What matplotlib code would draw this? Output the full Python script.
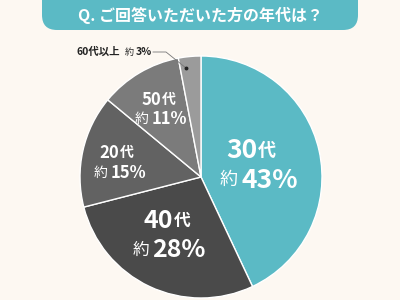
import matplotlib.pyplot as plt
from matplotlib.patches import FancyBboxPatch

plt.rcParams['font.family'] = ['Noto Sans CJK JP', 'DejaVu Sans']

# data
ages = ['30代', '40代', '20代', '50代', '60代以上']
shares = [43, 28, 15, 11, 3]
colors = ['#5bbac5', '#4a4a4a', '#626262', '#7b7b7b', '#9b9b9b']
title = 'Q. ご回答いただいた方の年代は？'

bg = '#fdf8f2'
W, H = 400, 300

fig = plt.figure(figsize=(4, 3), dpi=100, facecolor=bg)
ax = fig.add_axes([0, 0, 1, 1])

# pie (y measured from bottom)
cx, cy, r = 201, H - 177, 121
ax.pie(shares, colors=colors, startangle=90, counterclock=False,
       center=(cx, cy), radius=r, frame=True,
       wedgeprops=dict(edgecolor='white', linewidth=1.0))
ax.set_xlim(0, W)
ax.set_ylim(0, H)
ax.set_aspect('equal')
ax.axis('off')

# title banner
banner = FancyBboxPatch((42, H - 30), 316, 60,
                        boxstyle='round,pad=0,rounding_size=15',
                        facecolor='#5bbac5', edgecolor='none')
ax.add_patch(banner)
ax.text(200, H - 15, title, color='white', fontsize=11.5, fontweight='bold',
        ha='center', va='center')


def two_line(x1, y1, x2, y2, name, pct, big, small, color='white'):
    num = name.replace('代', '')
    ax.text(x1, H - y1, num, color=color, fontsize=big, fontweight='bold',
            ha='right', va='center')
    ax.text(x1 + 1, H - y1, '代', color=color, fontsize=small, fontweight='bold',
            ha='left', va='center')
    ax.text(x2, H - y2, '約', color=color, fontsize=small,
            ha='right', va='center')
    ax.text(x2 + 3, H - y2, f'{pct}%', color=color, fontsize=big,
            fontweight='bold', ha='left', va='center')


two_line(257, 150, 238, 180, ages[0], shares[0], 19, 13)
two_line(173, 221, 149, 250, ages[1], shares[1], 18, 12)
two_line(119, 153, 108, 173, ages[2], shares[2], 12, 10)
two_line(161, 100, 149, 119, ages[3], shares[3], 12, 10)

# small label for 60代以上 with leader line
ax.text(120, H - 52, ages[4], color='#222222', fontsize=7.5, fontweight='bold',
        ha='right', va='center')
ax.text(125, H - 52, '約', color='#222222', fontsize=6.5, ha='left', va='center')
ax.text(136, H - 52, f'{shares[4]}%', color='#222222', fontsize=7.5,
        fontweight='bold', ha='left', va='center')
ax.plot([153, 166, 186], [H - 52, H - 52, H - 68], color='#777777', lw=0.6)
ax.plot([186], [H - 68], 'o', color='#222222', ms=1.8)

fig.savefig('out.png', dpi=100, facecolor=bg)
